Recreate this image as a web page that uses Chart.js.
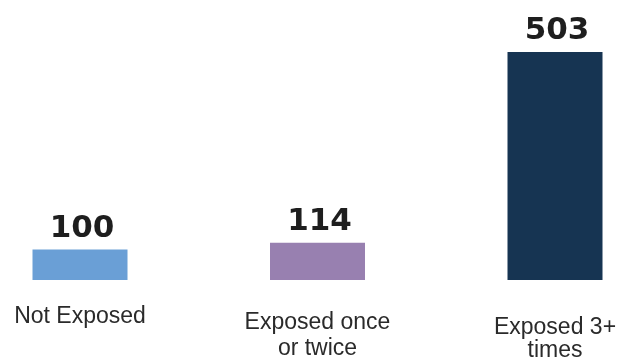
<!DOCTYPE html>
<html><head><meta charset="utf-8">
<script src="https://cdn.jsdelivr.net/npm/chart.js@4"></script>
<style>html,body{margin:0;padding:0;background:#fff;}#wrap{width:618px;height:358px;}</style>
</head><body><div id="wrap"><canvas id="c" width="618" height="358"></canvas></div>
<script>
const categories = [["Not Exposed"], ["Exposed once", "or twice"], ["Exposed 3+", "times"]];
const values = [100, 114, 503];
const barColors = ["#6a9fd6", "#9880b0", "#163452"];
const yMin = 38;
const yMax = 503;
// [first baseline below plot bottom, line spacing]
const labelOffsets = [[43, 0], [49, 25.5], [53.5, 23]];

const labelPlugin = {
  id: 'customLabels',
  afterDatasetsDraw(chart) {
    const ctx = chart.ctx;
    const meta = chart.getDatasetMeta(0);
    const xScale = chart.scales.x;
    ctx.save();
    ctx.textAlign = 'center';
    ctx.textBaseline = 'alphabetic';
    ctx.font = 'bold 31px "DejaVu Sans"';
    ctx.fillStyle = '#1e1e1e';
    meta.data.forEach((bar, i) => {
      ctx.fillText(String(values[i]), bar.x + 2, bar.y - 13);
    });
    ctx.font = '23px "Liberation Sans"';
    ctx.fillStyle = '#2a2a2a';
    const bottom = chart.chartArea.bottom;
    categories.forEach((lines, i) => {
      const x = xScale.getPixelForValue(i);
      const off = labelOffsets[i];
      lines.forEach((t, j) => ctx.fillText(t, x, bottom + off[0] + j * off[1]));
    });
    ctx.restore();
  }
};

new Chart(document.getElementById('c'), {
  type: 'bar',
  data: {
    labels: categories.map(l => l.join(' ')),
    datasets: [{
      data: values,
      backgroundColor: barColors,
      borderWidth: 0,
      base: yMin,
      categoryPercentage: 1,
      barPercentage: 0.4,
      clip: false
    }]
  },
  options: {
    responsive: false,
    animation: false,
    devicePixelRatio: 1,
    layout: { padding: { top: 52, bottom: 78, left: 80, right: 63 } },
    plugins: { legend: { display: false }, tooltip: { enabled: false } },
    scales: {
      x: { type: 'category', offset: false, display: false },
      y: { min: yMin, max: yMax, display: false }
    }
  },
  plugins: [labelPlugin]
});
</script>
</body></html>
